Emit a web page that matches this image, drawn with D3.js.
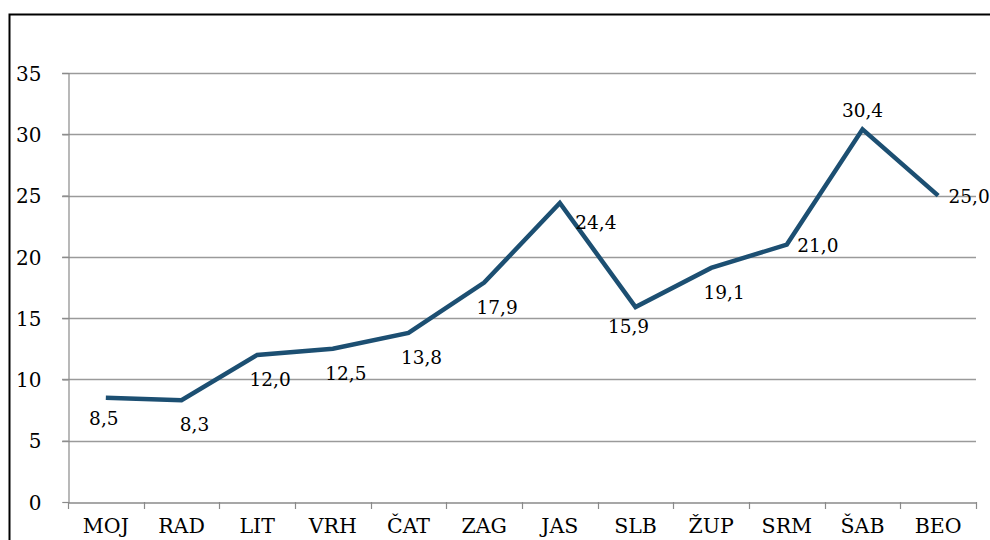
<!DOCTYPE html>
<html>
<head>
<meta charset="utf-8">
<script src="https://cdn.jsdelivr.net/npm/d3@7"></script>
<style>
  html, body { margin: 0; padding: 0; background: #fff; }
  svg { display: block; }
</style>
</head>
<body>
<svg id="chart" width="990" height="540"></svg>
<script>
const categories = ["MOJ", "RAD", "LIT", "VRH", "ČAT", "ZAG", "JAS", "SLB", "ŽUP", "SRM", "ŠAB", "BEO"];
const values = [8.5, 8.3, 12.0, 12.5, 13.8, 17.9, 24.4, 15.9, 19.1, 21.0, 30.4, 25.0];
const labelTexts = ["8,5", "8,3", "12,0", "12,5", "13,8", "17,9", "24,4", "15,9", "19,1", "21,0", "30,4", "25,0"];
const labelPlacement = ["below", "belowRight", "belowRight", "belowRight", "belowRight", "belowRight",
                        "farRight", "belowLeft", "belowRight", "right", "above", "right"];
const yTicks = [0, 5, 10, 15, 20, 25, 30, 35];

(function () {
const FONT = "DejaVu Serif";
const svg = d3.select("#chart");
const mLeft = 68, mRight = 976, mTop = 73, mBottom = 502;

svg.append("rect")
  .attr("x", 9.5).attr("y", 14.5).attr("width", 1000).attr("height", 600)
  .attr("fill", "none").attr("stroke", "#000").attr("stroke-width", 2);

const x = d3.scaleBand().domain(categories).range([mLeft, mRight]).paddingInner(0).paddingOuter(0);
const y = d3.scaleLinear().domain([0, 35]).range([mBottom, mTop]);

svg.append("g").selectAll("line").data(yTicks.filter(t => t > 0)).join("line")
  .attr("x1", mLeft - 6).attr("x2", mRight)
  .attr("y1", d => Math.round(y(d)) + 0.5).attr("y2", d => Math.round(y(d)) + 0.5)
  .attr("stroke", "#9a9a9a").attr("stroke-width", 1.5);

const yAxis = svg.append("g").attr("transform", `translate(${mLeft + 0.5},0)`)
  .call(d3.axisLeft(y).tickValues(yTicks).tickSize(6).tickPadding(21).tickFormat(d3.format("d")));
yAxis.attr("font-family", FONT).attr("font-size", 20);
yAxis.select(".domain").attr("stroke", "#8a8a8a").attr("stroke-width", 1.2);
yAxis.selectAll(".tick line").attr("stroke", "#8a8a8a").attr("stroke-width", 1.2);
yAxis.selectAll(".tick text").attr("fill", "#000").attr("dy", "0.36em");

const xAxis = svg.append("g").attr("transform", `translate(0,${mBottom + 0.5})`)
  .call(d3.axisBottom(x).tickSize(0).tickPadding(18));
xAxis.attr("font-family", FONT).attr("font-size", 20.5);
xAxis.select(".domain").attr("stroke", "#8a8a8a").attr("stroke-width", 1.5);
xAxis.selectAll(".tick text").attr("fill", "#000").attr("dy", "0.71em").attr("y", 16);
const bounds = categories.map(c => x(c)).concat([mRight]);
svg.append("g").selectAll("line").data(bounds).join("line")
  .attr("x1", d => Math.round(d) + 0.5).attr("x2", d => Math.round(d) + 0.5)
  .attr("y1", mBottom).attr("y2", mBottom + 7)
  .attr("stroke", "#8a8a8a").attr("stroke-width", 1.2);

const cx = c => x(c) + x.bandwidth() / 2;
const line = d3.line().x((d, i) => cx(categories[i])).y(d => y(d));
svg.append("path").datum(values)
  .attr("d", line).attr("fill", "none")
  .attr("stroke", "#1c4f72").attr("stroke-width", 4.5)
  .attr("stroke-linejoin", "miter").attr("stroke-linecap", "butt");

const offsets = {
  below: [-2, 20], belowRight: [13, 24], belowLeft: [-7, 19],
  farRight: [36, 19], right: [31, 0], above: [0, -19]
};
svg.append("g").attr("font-family", FONT).attr("font-size", 18.5)
  .selectAll("text").data(values).join("text")
  .attr("x", (d, i) => cx(categories[i]) + offsets[labelPlacement[i]][0])
  .attr("y", (d, i) => y(d) + offsets[labelPlacement[i]][1] + 7)
  .attr("text-anchor", "middle").attr("fill", "#000")
  .text((d, i) => labelTexts[i]);
})();
</script>
</body>
</html>
